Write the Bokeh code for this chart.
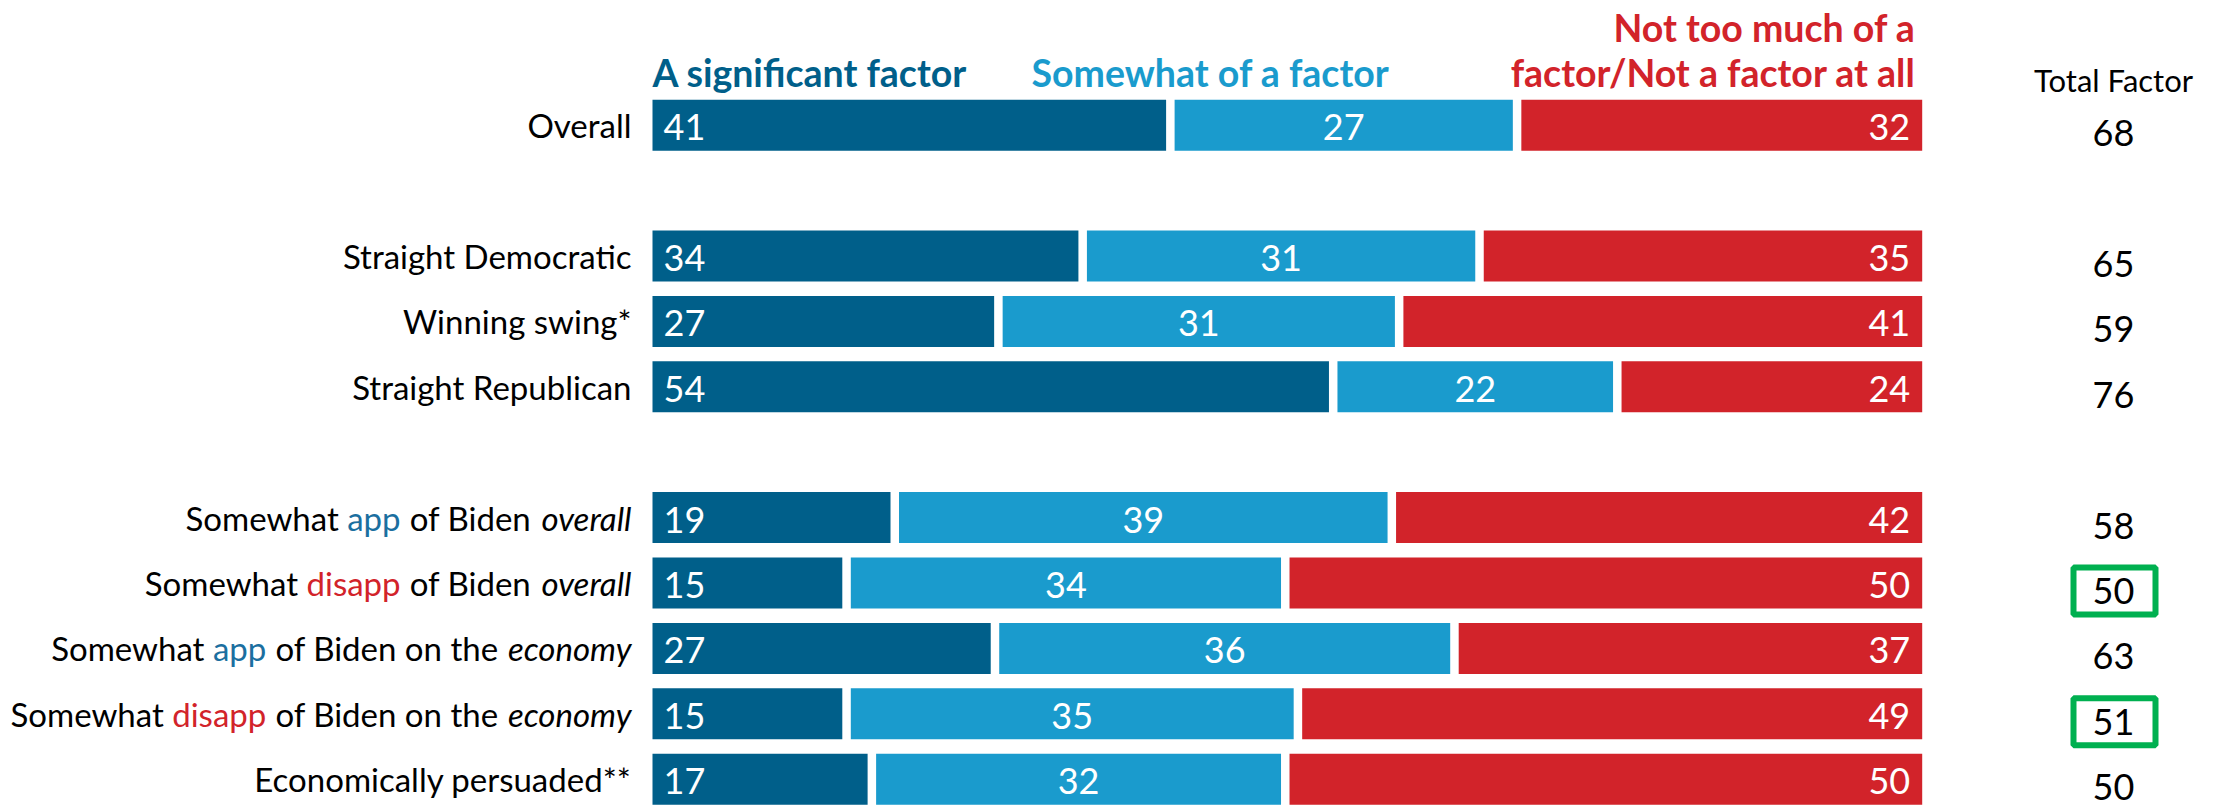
import struct, subprocess, glob, os
from bokeh.plotting import figure
from bokeh.models import Range1d, ColumnDataSource
from bokeh.core.properties import value
from bokeh.embed import file_html
from bokeh.resources import INLINE

# ---------------- data ----------------
groups = [
    ["Overall"],
    ["Straight Democratic", "Winning swing*", "Straight Republican"],
    ["Somewhat app of Biden overall", "Somewhat disapp of Biden overall",
     "Somewhat app of Biden on the economy", "Somewhat disapp of Biden on the economy",
     "Economically persuaded**"],
]
categories = [c for g in groups for c in g]
significant = [41, 34, 27, 54, 19, 15, 27, 15, 17]
somewhat = [27, 31, 31, 22, 39, 34, 36, 35, 32]
not_factor = [32, 35, 41, 24, 42, 50, 37, 49, 50]
total_factor = [68, 65, 59, 76, 58, 50, 63, 51, 50]
highlighted = ["Somewhat disapp of Biden overall", "Somewhat disapp of Biden on the economy"]
series_labels = ["A significant factor", "Somewhat of a factor", "Not too much of a", "factor/Not a factor at all"]
total_header = "Total Factor"

# ---------------- style ----------------
DARK = "#005F8A"
LIGHT = "#1A9BCD"
RED = "#D2232A"
APP = "#1B6FA0"
GREEN = "#00B050"
FONT = "Lato"

# ---------------- font metrics (for rich labels) ----------------
def find_font(names, pattern):
    for d in ["/usr/share/fonts", "/usr/local/share/fonts", os.path.expanduser("~/.fonts"),
              os.path.expanduser("~/.local/share/fonts")]:
        for n in names:
            hits = glob.glob(os.path.join(d, "**", n), recursive=True)
            if hits:
                return hits[0]
    try:
        out = subprocess.run(["fc-match", "-f", "%{file}", pattern], capture_output=True,
                             text=True, timeout=10).stdout.strip()
        if out and os.path.exists(out) and "lato" in out.lower():
            return out
    except Exception:
        pass
    return None

def load_metrics(path):
    data = open(path, "rb").read()
    ntab = struct.unpack(">H", data[4:6])[0]
    tables = {}
    for i in range(ntab):
        tag, cs, off, ln = struct.unpack(">4sIII", data[12 + 16 * i:28 + 16 * i])
        tables[tag.decode("latin1")] = off
    upem = struct.unpack(">H", data[tables["head"] + 18:tables["head"] + 20])[0]
    nhm = struct.unpack(">H", data[tables["hhea"] + 34:tables["hhea"] + 36])[0]
    ho = tables["hmtx"]
    adv = [struct.unpack(">H", data[ho + 4 * i:ho + 4 * i + 2])[0] for i in range(nhm)]
    co = tables["cmap"]
    n = struct.unpack(">H", data[co + 2:co + 4])[0]
    sub = None
    for i in range(n):
        pid, eid, so = struct.unpack(">HHI", data[co + 4 + 8 * i:co + 12 + 8 * i])
        fmt = struct.unpack(">H", data[co + so:co + so + 2])[0]
        if fmt == 4:
            sub = co + so
            break
    segx2 = struct.unpack(">H", data[sub + 6:sub + 8])[0]
    sc = segx2 // 2
    ends = struct.unpack(">%dH" % sc, data[sub + 14:sub + 14 + segx2])
    starts = struct.unpack(">%dH" % sc, data[sub + 16 + segx2:sub + 16 + 2 * segx2])
    deltas = struct.unpack(">%dh" % sc, data[sub + 16 + 2 * segx2:sub + 16 + 3 * segx2])
    rpos = sub + 16 + 3 * segx2
    roffs = struct.unpack(">%dH" % sc, data[rpos:rpos + segx2])

    def gid(c):
        for i in range(sc):
            if ends[i] >= c:
                if starts[i] > c:
                    return 0
                if roffs[i] == 0:
                    return (c + deltas[i]) & 0xFFFF
                addr = rpos + 2 * i + roffs[i] + 2 * (c - starts[i])
                g = struct.unpack(">H", data[addr:addr + 2])[0]
                return (g + deltas[i]) & 0xFFFF if g else 0
        return 0

    def width(s, size):
        return sum(adv[min(gid(ord(ch)), nhm - 1)] for ch in s) / upem * size
    return width

def fallback_width(s, size):
    return 0.5 * size * len(s)

try:
    w_reg = load_metrics(find_font(["Lato-Regular.ttf", "Lato-Regular.otf"], "Lato:style=Regular"))
except Exception:
    w_reg = fallback_width
try:
    w_ita = load_metrics(find_font(["Lato-Italic.ttf", "Lato-Italic.otf"], "Lato:style=Italic"))
except Exception:
    w_ita = w_reg

# ---------------- layout ----------------
W, H = 2215, 806
SPX = 12.527             # px per percentage unit
X0 = -652 / SPX          # data x at left edge of frame
ROW = 65.4               # px per row slot
ROW0 = 124.7             # px from top of first row centre
Y_TOP = -ROW0 / ROW

def xu(px):
    return X0 + px / SPX

GAP = 8.5 / SPX
BAR_H = 51 / ROW
LABEL_SIZE = 33
NUM_SIZE = 36
HDR_SIZE = "37.5px"
BASE_FIX = 11            # alphabetic baseline correction (px)

slots = []
s = 0
for gi, g in enumerate(groups):
    for _ in g:
        slots.append(s)
        s += 1
    s += 1

p = figure(width=W, height=H, output_backend="svg", toolbar_location=None, min_border=0,
           x_axis_type=None, y_axis_type=None,
           x_range=Range1d(X0, X0 + W / SPX), y_range=Range1d(Y_TOP + H / ROW, Y_TOP))
p.grid.visible = False
p.outline_line_color = None
p.background_fill_color = "white"
p.border_fill_color = "white"

# bars
l0, r0, l1, r1, l2, r2 = [], [], [], [], [], []
for a, b, c in zip(significant, somewhat, not_factor):
    t = a + b + c
    fa, fb, fc = a / t * 100, b / t * 100, c / t * 100
    l0.append(0); r0.append(fa)
    l1.append(fa + GAP); r1.append(fa + GAP + fb)
    l2.append(fa + fb + 2 * GAP); r2.append(fa + fb + fc + 2 * GAP)

src = ColumnDataSource(dict(y=slots, l0=l0, r0=r0, l1=l1, r1=r1, l2=l2, r2=r2,
                            m1=[(a + b) / 2 for a, b in zip(l1, r1)],
                            t0=[str(v) for v in significant], t1=[str(v) for v in somewhat],
                            t2=[str(v) for v in not_factor],
                            tf=[str(v) for v in total_factor],
                            tfx=[xu(2113)] * len(slots)))

p.hbar(y="y", left="l0", right="r0", height=BAR_H, source=src, fill_color=DARK, line_color=None)
p.hbar(y="y", left="l1", right="r1", height=BAR_H, source=src, fill_color=LIGHT, line_color=None)
p.hbar(y="y", left="l2", right="r2", height=BAR_H, source=src, fill_color=RED, line_color=None)

common = dict(source=src, text_color="white", text_font=value(FONT), text_font_size=f"{NUM_SIZE}px",
              text_baseline="middle", y_offset=2)
p.text(x="l0", y="y", text="t0", text_align="left", x_offset=11, **common)
p.text(x="m1", y="y", text="t1", text_align="center", **common)
p.text(x="r2", y="y", text="t2", text_align="right", x_offset=-12, **common)

# total factor column
p.text(x="tfx", y="y", text="tf", source=src, text_align="center", text_baseline="middle",
       y_offset=8, text_color="black", text_font=value(FONT), text_font_size=f"{NUM_SIZE}px")
hl_y = [slots[categories.index(c)] + 8 / ROW for c in highlighted]
p.rect(x=[xu(2114)] * len(hl_y), y=hl_y, width=82, height=47, width_units="screen",
       height_units="screen", fill_color=None, line_color=GREEN, line_width=6)

# rich row labels
def segments(cat):
    toks = cat.split(" ")
    out = []
    for tk in toks:
        if tk == "app":
            st = "app"
        elif tk == "disapp":
            st = "disapp"
        elif tk in ("overall", "economy") and cat.startswith("Somewhat"):
            st = "italic"
        else:
            st = "plain"
        if out and out[-1][1] == st:
            out[-1][0].append(tk)
        else:
            out.append([[tk], st])
    return [(" ".join(t), st) for t, st in out]

color_of = {"plain": "black", "italic": "black", "app": APP, "disapp": RED}
lab = {k: dict(x=[], y=[], text=[], xo=[]) for k in color_of}
space = w_reg(" ", LABEL_SIZE)
for cat, y in zip(categories, slots):
    segs = segments(cat)
    off = -21.0
    for txt, st in reversed(segs):
        d = lab[st]
        d["x"].append(0); d["y"].append(y); d["text"].append(txt); d["xo"].append(off)
        wf = w_ita if st == "italic" else w_reg
        off -= wf(txt, LABEL_SIZE) + space

for st, d in lab.items():
    if not d["x"]:
        continue
    p.text(x="x", y="y", text="text", x_offset="xo", source=ColumnDataSource(d),
           text_align="right", text_baseline="middle", text_color=color_of[st],
           text_font=value(FONT), text_font_size=f"{LABEL_SIZE}px",
           text_font_style="italic" if st == "italic" else "normal")

# headers
hdr = dict(text_font=value(FONT), text_font_size=HDR_SIZE, text_font_style="bold",
           text_baseline="alphabetic")
p.text(x=[0], y=[0], text=[series_labels[0]], text_align="left",
       y_offset=83 - BASE_FIX - ROW0, text_color=DARK, **hdr)
p.text(x=[xu(1210)], y=[0], text=[series_labels[1]], text_align="center",
       y_offset=83 - BASE_FIX - ROW0, text_color=LIGHT, **hdr)
p.text(x=[xu(1915)], y=[0], text=[series_labels[2]], text_align="right",
       y_offset=38 - BASE_FIX - ROW0, text_color=RED, **hdr)
p.text(x=[xu(1915)], y=[0], text=[series_labels[3]], text_align="right",
       y_offset=83 - BASE_FIX - ROW0, text_color=RED, **hdr)
p.text(x=[xu(2113)], y=[0], text=[total_header], text_align="center",
       y_offset=90 - BASE_FIX - ROW0, text_color="black", text_font=value(FONT),
       text_font_size="31px", text_baseline="alphabetic")

open("out.html", "w").write(file_html(p, INLINE))
